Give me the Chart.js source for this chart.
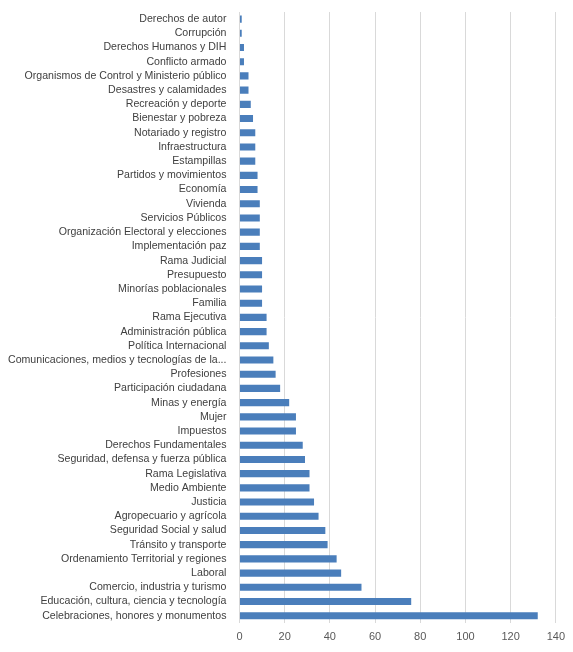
<!DOCTYPE html>
<html>
<head>
<meta charset="utf-8">
<script src="https://cdn.jsdelivr.net/npm/chart.js@4"></script>
<style>
  body { margin: 0; background: #fff; }
</style>
</head>
<body>
<canvas id="chart" width="573" height="652"></canvas>
<script>
const categories = [
    'Derechos de autor', 'Corrupción', 'Derechos Humanos y DIH', 'Conflicto armado',
    'Organismos de Control y Ministerio público', 'Desastres y calamidades', 'Recreación y deporte',
    'Bienestar y pobreza', 'Notariado y registro', 'Infraestructura', 'Estampillas',
    'Partidos y movimientos', 'Economía', 'Vivienda', 'Servicios Públicos',
    'Organización Electoral y elecciones', 'Implementación paz', 'Rama Judicial', 'Presupuesto',
    'Minorías poblacionales', 'Familia', 'Rama Ejecutiva', 'Administración pública',
    'Política Internacional', 'Comunicaciones, medios y tecnologías de la...', 'Profesiones',
    'Participación ciudadana', 'Minas y energía', 'Mujer', 'Impuestos', 'Derechos Fundamentales',
    'Seguridad, defensa y fuerza pública', 'Rama Legislativa', 'Medio Ambiente', 'Justicia',
    'Agropecuario y agrícola', 'Seguridad Social y salud', 'Tránsito y transporte',
    'Ordenamiento Territorial y regiones', 'Laboral', 'Comercio, industria y turismo',
    'Educación, cultura, ciencia y tecnología', 'Celebraciones, honores y monumentos'
];
const values = [
    1, 1, 2, 2, 4, 4, 5, 6, 7, 7, 7, 8, 8, 9, 9, 9, 9, 10, 10, 10, 10, 12, 12, 13, 15, 16,
    18, 22, 25, 25, 28, 29, 31, 31, 33, 35, 38, 39, 43, 45, 54, 76, 132
];
const xTicks = [0, 20, 40, 60, 80, 100, 120, 140];

let ctx = document.getElementById('chart').getContext('2d');
let chart = new Chart(ctx, {
    type: 'bar',
    data: {
        labels: categories,
        datasets: [{
            data: values,
            backgroundColor: '#4a7ebb',
            barPercentage: 0.5,
            categoryPercentage: 1
        }]
    },
    options: {
        indexAxis: 'y',
        responsive: false,
        animation: false,
        layout: { padding: { left: 3, right: 14, top: 12, bottom: 0 } },
        plugins: { legend: { display: false }, tooltip: { enabled: false } },
        scales: {
            x: {
                min: 0, max: 140,
                afterBuildTicks: axis => { axis.ticks = xTicks.map(v => ({ value: v })); },
                grid: { color: '#d9d9d9', drawTicks: false },
                border: { display: false },
                ticks: { color: '#595959', font: { family: 'Liberation Sans', size: 11 }, padding: 8 }
            },
            y: {
                grid: { display: false },
                border: { color: '#d9d9d9' },
                ticks: { color: '#404040', font: { family: 'Liberation Sans', size: 10.6 }, autoSkip: false, padding: 5 }
            }
        }
    }
});
</script>
</body>
</html>
